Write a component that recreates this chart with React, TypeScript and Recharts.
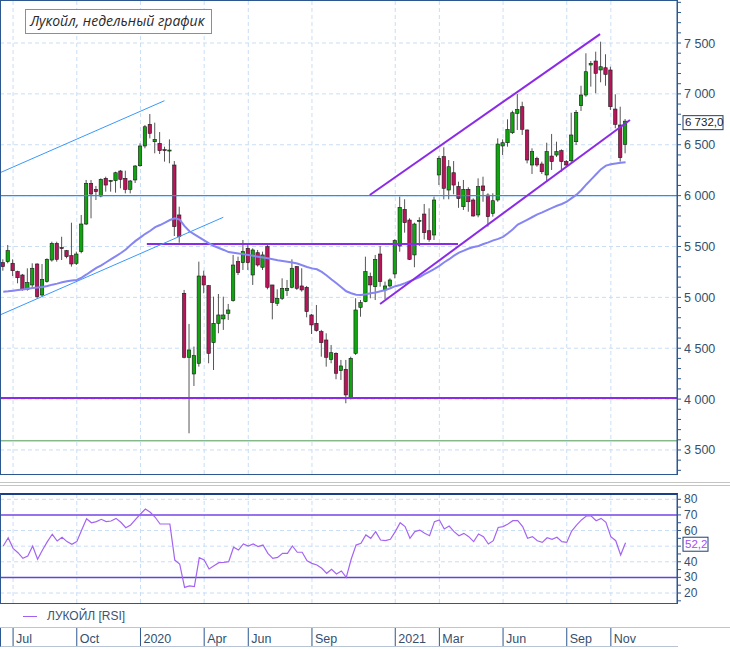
import React from 'react'
import { ComposedChart, LineChart, Line, Bar, XAxis, YAxis, CartesianGrid, ReferenceLine } from 'recharts'

// weekly candles, index 0 = week of 17 Jun 2019
const opens = [5341,5351,5335,5253,5220,5079,5122,5328,5023,5155,5367,5531,5490,5459,5410,5335,5449,5721,6121,6062,5996,6170,6140,6147,6242,6170,6062,6154,6294,6488,6701,6530,6514,6452,6445,6301,5810,5040,4411,4247,4352,5210,5115,4555,4745,4788,4843,4968,5351,5341,5482,5220,5439,5296,5498,5122,4942,4991,5066,5099,5302,5112,5099,4827,4745,4663,4581,4391,4450,4280,4293,4008,4450,4902,4958,5204,5105,5426,5073,5112,5230,5505,5865,5760,5417,5750,5819,5655,5613,6203,6383,6055,6225,6090,5891,6062,5957,5810,6095,6006,5826,5957,6488,6520,6618,6809,6874,6645,6301,6367,6311,6203,6389,6399,6442,6334,6343,6530,6884,6989,7284,7323,7235,7257,7235,6851,6694,6504]
const highs = [5374,5515,5374,5262,5230,5285,5335,5335,5328,5384,5547,5547,5596,5466,5734,5449,5810,6154,6154,6095,6170,6186,6154,6235,6252,6245,6154,6301,6514,6694,6802,6717,6625,6481,6553,6340,5891,5073,4739,4516,5351,5262,5122,5007,5033,5007,4935,5417,5400,5564,5515,5482,5466,5449,5515,5122,5079,5187,5171,5374,5308,5286,5112,4837,4925,4680,4647,4532,4460,4385,4385,4417,4991,4974,5400,5243,5417,5505,5155,5187,5571,5990,5964,5777,5734,5787,5918,5875,5990,6389,6475,6350,6340,6137,6154,6082,5973,6170,6186,6023,6023,6563,6553,6750,6835,6999,6923,6651,6465,6383,6334,6520,6606,6530,6455,6350,6815,6842,7080,7399,7323,7415,7513,7389,7267,6996,6874,6753]
const lows = [5262,5335,5210,5138,5066,5066,5089,4987,5007,5145,5351,5351,5367,5384,5302,5318,5433,5711,5777,5957,5983,6039,6039,6029,6072,6022,6022,6124,6284,6465,6563,6416,6409,6334,6318,5603,5537,4401,3664,4129,4319,5040,4352,4286,4647,4680,4778,4958,5220,5269,5269,5122,5302,5269,5079,4784,4915,4974,5014,5089,5073,5056,4804,4640,4663,4417,4319,4352,4195,4188,3959,3998,4434,4810,4952,4991,4974,5105,4981,5099,5187,5449,5636,5367,5296,5505,5570,5547,5564,6104,5964,5964,6013,5880,5859,5842,5793,5787,5940,5695,5793,5940,6399,6481,6606,6645,6596,6317,6213,6284,6213,6137,6252,6380,6235,6280,6324,6498,6832,6972,7071,7006,7114,7080,6842,6662,6334,6416]
const closes = [5302,5459,5262,5193,5079,5145,5286,5007,5177,5374,5531,5374,5480,5400,5328,5426,5721,6121,6016,6039,6160,6104,6150,6225,6160,6062,6144,6291,6488,6677,6612,6553,6442,6445,6448,5695,5597,4411,4483,4427,5210,5122,4450,4745,4827,4827,4876,5318,5243,5449,5341,5466,5318,5417,5099,4948,4991,5089,5089,5286,5089,5073,4860,4729,4673,4555,4411,4456,4254,4326,4041,4401,4876,4948,5253,5122,5374,5155,5112,5171,5557,5885,5734,5374,5721,5757,5636,5570,5957,6367,6072,6284,6104,5970,6062,5940,5800,6088,6049,5793,5950,6507,6520,6651,6815,6848,6652,6350,6432,6301,6235,6432,6334,6432,6334,6301,6596,6819,6989,7218,7300,7202,7267,7192,6874,6701,6373,6732]
const maValues = [5056,5060,5066,5072,5078,5085,5092,5098,5102,5112,5125,5135,5148,5158,5165,5171,5195,5225,5258,5289,5315,5345,5375,5405,5436,5470,5515,5555,5590,5625,5655,5690,5711,5735,5760,5777,5765,5700,5650,5620,5590,5560,5530,5505,5485,5466,5445,5439,5432,5425,5416,5408,5400,5392,5384,5375,5365,5357,5350,5343,5332,5315,5298,5285,5276,5250,5215,5175,5138,5100,5060,5040,5025,5023,5030,5040,5048,5060,5073,5090,5110,5122,5140,5160,5180,5200,5228,5252,5280,5310,5345,5375,5410,5440,5460,5480,5495,5505,5525,5540,5560,5575,5595,5630,5670,5715,5740,5765,5790,5815,5835,5858,5880,5900,5918,5940,5975,6010,6055,6110,6160,6210,6260,6295,6308,6315,6322,6327]
const rsiValues = [50.1,55.4,48.6,45.8,42.2,43.7,50.1,41.6,47.5,52.9,57.6,53.3,55.7,52.9,51.2,52.9,60.3,67.6,65.0,65.7,67.2,65.7,66.1,67.8,65.3,61.8,63.6,67.2,70.6,73.8,71.7,68.5,64.2,64.2,64.2,41.1,38.6,23.6,24.5,24.1,42.6,41.1,35.4,37.5,39.4,39.6,40.1,49.3,47.5,51.4,50.1,51.4,49.7,50.7,45.4,42.2,42.8,45.4,45.4,50.1,46.1,46.1,40.7,39.0,37.9,35.8,32.6,35.2,32.2,34.1,30.0,41.6,50.7,51.8,57.2,55.0,59.3,53.9,53.5,54.4,59.3,65.0,62.5,55.0,59.3,60.3,58.2,56.7,65.7,66.8,61.0,62.9,59.3,56.7,58.2,56.1,52.9,57.8,56.1,51.4,53.5,62.0,62.5,64.2,66.3,66.3,62.5,55.0,56.1,53.5,52.4,55.4,54.4,55.7,52.9,52.4,59.7,63.5,66.8,69.3,69.3,66.3,67.8,65.3,56.1,53.5,44.3,52.2]

// month boundaries (week index) and their labels
const monthTicks = [2, 15, 28, 41, 50, 63, 80, 89, 102, 115, 124]
const monthLabels = ['Jul', 'Oct', '2020', 'Apr', 'Jun', 'Sep', '2021', 'Mar', 'Jun', 'Sep', 'Nov']

const priceMajorTicks = [3500, 4000, 4500, 5000, 5500, 6000, 6500, 7000, 7500]
const priceMinorTicks = [3300,3400,3500,3600,3700,3800,3900,4000,4100,4200,4300,4400,4500,4600,4700,4800,4900,5000,5100,5200,5300,5400,5500,5600,5700,5800,5900,6000,6100,6200,6300,6400,6500,6600,6700,6800,6900,7000,7100,7200,7300,7400,7500,7600,7700,7800,7900]
// 50 sits under the current value box, so it has a tick but no label
const rsiLabelTicks = [20, 30, 40, 60, 70, 80]
const rsiMinorTicks = [15, 20, 25, 30, 35, 40, 45, 50, 55, 60, 65, 70, 75, 80]
const rsiGridValues = [20, 40, 50, 60, 80]

// hand drawn lines: [x1 week, y1 price, x2 week, y2 price]
const blueTrendLines = [
  [-0.67, 6225, 32.9, 6933],
  [-0.67, 4827, 44.9, 5787],
]
const channelLines = [
  [74.8, 6006, 121.8, 7588],
  [76.9, 4935, 127.9, 6743],
]
const resistanceSegment = [29.3, 5525, 92.8, 5525]
const levelBlue = 6000
const levelPurple = 4010
const levelGreen = 3590

const X_DOMAIN = [-0.67, 137.5]
const AXIS = '#2c578f'
const TEXT = '#34506e'
const FONT = '"Liberation Sans", Arial, sans-serif'
const PURPLE = '#8b2be8'
const GRID = '#c9def5'

const candles = opens.map((o, i) => ({
  i,
  open: o,
  high: highs[i],
  low: lows[i],
  close: closes[i],
  range: [lows[i], highs[i]],
  ma: maValues[i],
}))
const rsiData = rsiValues.map((v, i) => ({ i, rsi: v }))

const fmtPrice = (v: number) => `${Math.floor(v / 1000)} ${String(Math.round(v % 1000)).padStart(3, '0')}`

function Candle(props: any) {
  const { x, y, width, height, payload } = props
  if (!payload) return null
  const { open, close, high, low } = payload
  const top = Math.min(y, y + height)
  const h = Math.abs(height)
  const cx = x + width / 2
  const k = h / (high - low || 1)
  const yOf = (v: number) => top + (high - v) * k
  const up = close >= open
  const bTop = yOf(Math.max(open, close))
  const bBot = yOf(Math.min(open, close))
  return (
    <g>
      <line x1={cx} x2={cx} y1={top} y2={top + h} stroke="#555" strokeWidth={1} />
      <rect x={cx - 1.7} y={bTop} width={3.4} height={Math.max(bBot - bTop, 1)}
        fill={up ? '#0ea50e' : '#b8145a'} stroke="#1c1c1c" strokeWidth={0.6} />
    </g>
  )
}

function PriceTick(props: any) {
  const { x, y, payload } = props
  const v = payload.value
  return (
    <g>
      <line x1={x} x2={x + 4} y1={y} y2={y} stroke={AXIS} />
      {priceMajorTicks.includes(v) && (
        <text x={x + 7} y={y} dy={4.5} fill={TEXT} fontSize={12.5} fontFamily={FONT}>{fmtPrice(v)}</text>
      )}
    </g>
  )
}

function RsiTick(props: any) {
  const { x, y, payload } = props
  const v = payload.value
  return (
    <g>
      <line x1={x} x2={x + 4} y1={y} y2={y} stroke={AXIS} />
      {rsiLabelTicks.includes(v) && (
        <text x={x + 7} y={y} dy={4} fill={TEXT} fontSize={12} fontFamily={FONT}>{v}</text>
      )}
    </g>
  )
}

function MonthTick(props: any) {
  const { x, y, index } = props
  return (
    <g>
      <line x1={x} x2={x} y1={y + 25} y2={y + 44} stroke={AXIS} />
      <text x={x + 3} y={y + 40} fill={TEXT} fontSize={12.5} fontFamily={FONT}>{monthLabels[index]}</text>
    </g>
  )
}

function ValueBox({ viewBox, text, color, w }: any) {
  if (!viewBox) return null
  const bx = viewBox.x + viewBox.width + 6
  const by = viewBox.y + 1
  return (
    <g>
      <rect x={bx} y={by - 6.5} width={w} height={14} fill="#fff" stroke="#1f3f6f" strokeWidth={1} />
      <text x={bx + 2} y={by + 4} fill={color} fontSize={11.5} fontFamily={FONT}>{text}</text>
    </g>
  )
}

const lastClose = closes[closes.length - 1]
const lastRsi = rsiValues[rsiValues.length - 1]

export default function App() {
  return (
    <div style={{ position: 'absolute', left: 0, top: 0, width: 730, height: 649, background: '#fff', overflow: 'hidden' }}>
      <ComposedChart width={730} height={477} data={candles} margin={{ top: 1, right: 0, bottom: 2, left: 0 }}>
        <CartesianGrid stroke={GRID} strokeDasharray="4 3" horizontalValues={priceMajorTicks} verticalValues={monthTicks} />
        <XAxis dataKey="i" type="number" domain={X_DOMAIN} allowDataOverflow hide padding={{ left: 0, right: 0 }} />
        <YAxis orientation="right" width={53} domain={[3254, 7913]} allowDataOverflow ticks={priceMinorTicks}
          interval={0} tickSize={0} tickMargin={0} tickLine={false} axisLine={{ stroke: AXIS }} tick={<PriceTick />} />
        <ReferenceLine y={levelGreen} stroke="#4f9a55" strokeWidth={1} />
        <ReferenceLine y={levelPurple} stroke={PURPLE} strokeWidth={2} />
        <ReferenceLine y={levelBlue} stroke="#1e90ff" strokeWidth={1.4} />
        <ReferenceLine ifOverflow="hidden" stroke={PURPLE} strokeWidth={2}
          segment={[{ x: resistanceSegment[0], y: resistanceSegment[1] }, { x: resistanceSegment[2], y: resistanceSegment[3] }]} />
        {blueTrendLines.map((l, k) => (
          <ReferenceLine key={'b' + k} ifOverflow="hidden" stroke="#3a98fb" strokeWidth={1}
            segment={[{ x: l[0], y: l[1] }, { x: l[2], y: l[3] }]} />
        ))}
        <Line dataKey="ma" stroke="#8585f4" strokeWidth={2} dot={false} isAnimationActive={false} />
        <Bar dataKey="range" barSize={4} shape={<Candle />} isAnimationActive={false} />
        {channelLines.map((l, k) => (
          <ReferenceLine key={'c' + k} ifOverflow="hidden" stroke={PURPLE} strokeWidth={2}
            segment={[{ x: l[0], y: l[1] }, { x: l[2], y: l[3] }]} />
        ))}
        <ReferenceLine y={lastClose} strokeOpacity={0}
          label={{ content: (p: any) => <ValueBox viewBox={p.viewBox} text={fmtPrice(lastClose) + ',0'} color="#222" w={40} /> }} />
      </ComposedChart>

      {/* frame of price panel */}
      <div style={{ position: 'absolute', left: 0, top: 0, width: 678, height: 475, border: `1px solid ${AXIS}`, boxSizing: 'border-box', pointerEvents: 'none' }} />
      <div style={{ position: 'absolute', left: 25, top: 9, width: 187, height: 25, border: '1.5px solid #a66ef0', boxSizing: 'border-box', background: '#fff',
        fontFamily: '"Open Sans", sans-serif', fontStyle: 'italic', fontSize: 14, color: '#2a2a2a', lineHeight: '22px', paddingLeft: 4, whiteSpace: 'nowrap' }}>
        Лукойл, недельный график
      </div>

      {/* separators */}
      <div style={{ position: 'absolute', left: 0, top: 482, width: 730, height: 1, background: '#c4c4c4' }} />
      <div style={{ position: 'absolute', left: 0, top: 485, width: 730, height: 1, background: '#c4c4c4' }} />

      <div style={{ position: 'absolute', left: 0, top: 487 }}>
        <LineChart width={730} height={162} data={rsiData} margin={{ top: 7, right: 0, bottom: 0, left: 0 }}>
          <CartesianGrid stroke={GRID} strokeDasharray="4 3" horizontalValues={rsiGridValues} verticalValues={monthTicks} />
          <XAxis dataKey="i" type="number" domain={X_DOMAIN} allowDataOverflow ticks={monthTicks} interval={0}
            height={46} tickSize={0} tickMargin={0} tickLine={false} axisLine={false} tick={<MonthTick />} padding={{ left: 0, right: 0 }} />
          <YAxis orientation="right" width={53} domain={[13.6, 83.4]} allowDataOverflow ticks={rsiMinorTicks}
            interval={0} tickSize={0} tickMargin={0} tickLine={false} axisLine={{ stroke: AXIS }} tick={<RsiTick />} />
          <ReferenceLine y={70} stroke="#7445e8" strokeWidth={1.5} />
          <ReferenceLine y={30} stroke="#5d46e0" strokeWidth={1.5} />
          <Line dataKey="rsi" stroke="#a464f3" strokeWidth={1.2} dot={false} isAnimationActive={false} />
          <ReferenceLine y={lastRsi} strokeOpacity={0}
            label={{ content: (p: any) => <ValueBox viewBox={p.viewBox} text={lastRsi.toFixed(1).replace('.', ',')} color="#a050f0" w={25} /> }} />
        </LineChart>
      </div>

      {/* frame of RSI panel */}
      <div style={{ position: 'absolute', left: 0, top: 493, width: 678, height: 111, border: `1px solid ${AXIS}`, borderTop: '2px solid #1a3f86', boxSizing: 'border-box', pointerEvents: 'none' }} />

      {/* legend */}
      <div style={{ position: 'absolute', left: 23, top: 609, display: 'flex', alignItems: 'center', fontFamily: FONT, fontSize: 12, color: '#3d5470' }}>
        <span style={{ display: 'inline-block', width: 14, height: 1, background: '#a060f0', marginRight: 10 }} />
        ЛУКОЙЛ [RSI]
      </div>

      {/* time strip borders */}
      <div style={{ position: 'absolute', left: 0, top: 627, width: 730, height: 1, background: '#c4c4c4' }} />
      <div style={{ position: 'absolute', left: 0, top: 628, width: 678, height: 19, borderBottom: '1px solid #b8c4d4', borderLeft: `1px solid ${AXIS}`, boxSizing: 'border-box' }} />
    </div>
  )
}
